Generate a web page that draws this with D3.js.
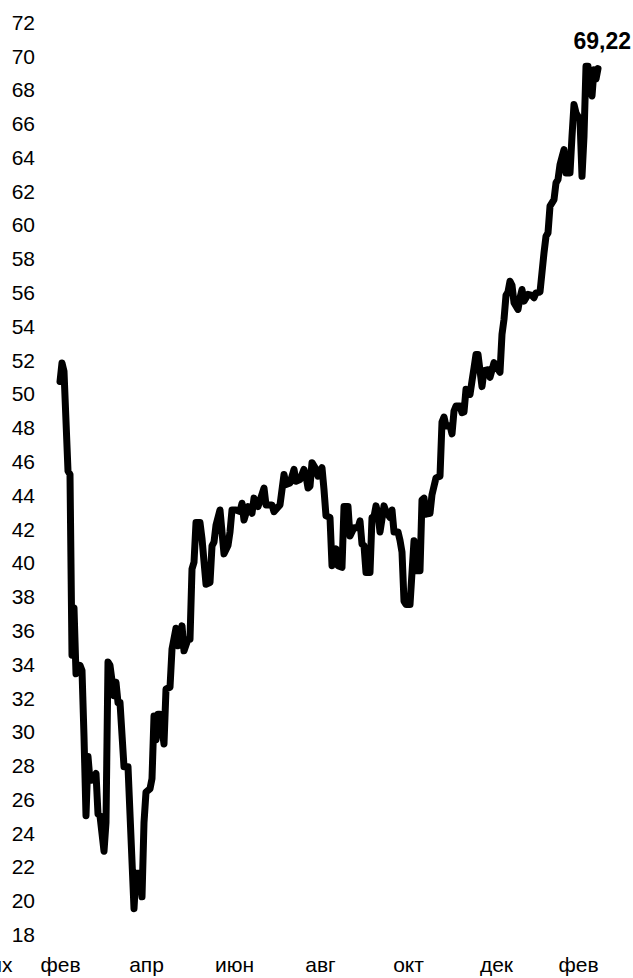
<!DOCTYPE html>
<html>
<head>
<meta charset="utf-8">
<script src="https://cdn.jsdelivr.net/npm/d3@7"></script>
<style>
  body { margin: 0; background: #fff; }
  svg { display: block; }
  text { font-family: "Liberation Sans", Arial, sans-serif; fill: #000; }
</style>
</head>
<body>
<script>
// trading-day number of each vertex and the price at it
var tradingDay = [0, 1, 2, 4, 5, 6, 7, 8, 10, 11, 12, 13, 14, 15, 16, 18, 19, 20, 22, 23,
    24, 25, 27, 28, 29, 30, 32, 34, 37, 38, 40, 41, 42, 43, 45, 46, 47, 48, 49, 50,
    52, 53, 55, 56, 58, 59, 61, 62, 64, 65, 66, 67, 68, 70, 71, 73, 75, 76, 77, 78,
    80, 82, 84, 85, 86, 88, 90, 91, 92, 94, 96, 97, 99, 102, 103, 106, 107, 110, 112, 113,
    115, 117, 118, 120, 122, 123, 124, 125, 126, 128, 129, 131, 132, 133, 135, 136, 138, 139, 141, 142,
    144, 145, 147, 149, 150, 151, 152, 153, 155, 156, 157, 158, 159, 160, 162, 163, 165, 166, 167, 169,
    170, 171, 172, 173, 175, 177, 178, 180, 181, 182, 183, 185, 186, 187, 188, 190, 191, 192, 193, 195,
    196, 197, 198, 200, 201, 202, 203, 205, 206, 207, 208, 209, 211, 212, 214, 215, 217, 218, 220, 221,
    222, 223, 224, 225, 226, 227, 229, 230, 231, 232, 234, 236, 237, 238, 240, 242, 243, 244, 245, 247,
    248, 249, 250, 252, 253, 255, 256, 257, 258, 260, 261, 262, 263, 264, 265, 266, 267, 268, 269];

var price = [50.7, 51.8, 51.3, 45.4, 45.2, 34.5, 37.3, 33.4, 33.9, 33.6, 29.7, 25.0, 28.5, 27.1, 27.1, 27.5, 25.1, 25.0, 22.9, 24.6,
    34.1, 33.9, 32.1, 32.9, 31.7, 31.7, 27.9, 27.9, 19.5, 21.6, 21.6, 20.2, 24.6, 26.4, 26.6, 27.2, 30.9, 29.5, 31.0, 31.0,
    29.25, 32.5, 32.6, 34.86, 36.1, 35.06, 36.24, 34.76, 35.45, 35.45, 39.6, 40.0, 42.35, 42.35, 41.4, 38.7, 38.8, 40.97, 41.2, 42.2,
    43.1, 40.5, 41.0, 41.8, 43.1, 43.1, 43.0, 43.5, 42.5, 43.3, 42.9, 43.8, 43.3, 44.4, 43.4, 43.4, 43.0, 43.4, 45.2, 44.6,
    44.7, 45.5, 44.8, 44.9, 45.5, 45.1, 44.4, 44.5, 45.9, 45.5, 45.1, 45.6, 44.3, 42.75, 42.65, 39.8, 40.8, 39.8, 39.7, 43.3,
    43.3, 41.56, 42.05, 42.05, 42.45, 41.07, 41.0, 39.4, 39.4, 42.65, 42.7, 43.34, 42.85, 41.8, 43.34, 43.0, 42.65, 43.1, 41.8, 41.8,
    41.3, 40.6, 37.7, 37.5, 37.5, 41.27, 39.5, 39.5, 43.7, 43.8, 42.85, 42.9, 44.0, 44.5, 45.0, 45.1, 48.3, 48.6, 48.07, 48.1,
    47.6, 48.96, 49.25, 49.25, 48.86, 48.9, 50.24, 49.94, 50.73, 51.5, 52.3, 52.3, 50.4, 51.35, 51.4, 50.95, 51.82, 51.6, 51.25, 53.5,
    54.38, 55.8, 56.0, 56.64, 56.4, 55.37, 54.97, 55.66, 56.15, 55.46, 55.86, 55.8, 55.66, 55.95, 56.0, 58.32, 59.3, 59.5, 61.08, 61.47,
    62.46, 62.66, 63.54, 64.43, 63.05, 63.05, 65.22, 67.1, 66.6, 66.2, 62.85, 65.22, 69.36, 69.36, 67.98, 67.6, 69.16, 68.6, 69.22];

// month labels and the trading day each sits on
var monthLabels = ["фев", "апр", "июн", "авг", "окт", "дек", "фев"];
var monthTicks = [0, 43, 87, 130, 174, 218, 259];

var yTicks = d3.range(18, 73, 2);

var width = 633, height = 978;

var svg = d3.select("body").append("svg")
    .attr("width", width)
    .attr("height", height)
    .style("background", "#fff");

var x = d3.scaleLinear().domain([0, 270]).range([60, 600]);
var y = d3.scaleLinear().domain([18, 72]).range([934, 21.7]);

// y axis: labels only
var yAxis = svg.append("g")
    .attr("transform", "translate(45,0)")
    .call(d3.axisLeft(y).tickValues(yTicks).tickFormat(d3.format("d")).tickSize(0).tickPadding(10));
yAxis.select(".domain").remove();
yAxis.selectAll("text")
    .style("font-family", "'Liberation Sans', Arial, sans-serif")
    .style("font-size", "21px")
    .attr("dy", "0.36em");

// x axis: month labels only
var xAxis = svg.append("g")
    .attr("transform", "translate(0,955)")
    .call(d3.axisBottom(x).tickValues(monthTicks)
        .tickFormat(function (d, i) { return monthLabels[i]; })
        .tickSize(0).tickPadding(0));
xAxis.select(".domain").remove();
xAxis.selectAll("text")
    .style("font-family", "'Liberation Sans', Arial, sans-serif")
    .style("font-size", "21px")
    .attr("dy", "0.8em");

// cut-off word at the lower left corner (it is clipped in the original too)
svg.append("text")
    .attr("x", 12.5)
    .attr("y", 972)
    .attr("text-anchor", "end")
    .style("font-size", "21px")
    .text("их");

var points = tradingDay.map(function (d, i) { return [d, price[i]]; });

var line = d3.line()
    .x(function (d) { return x(d[0]); })
    .y(function (d) { return y(d[1]); });

svg.append("path")
    .datum(points)
    .attr("d", line)
    .attr("fill", "none")
    .attr("stroke", "#000")
    .attr("stroke-width", 7)
    .attr("stroke-linejoin", "round")
    .attr("stroke-linecap", "round");

// last value label
var last = points[points.length - 1];
svg.append("text")
    .attr("x", 631)
    .attr("y", y(last[1]) - 20)
    .attr("text-anchor", "end")
    .style("font-size", "23px")
    .style("font-weight", "bold")
    .text(d3.format(".2f")(last[1]).replace(".", ","));
</script>
</body>
</html>
